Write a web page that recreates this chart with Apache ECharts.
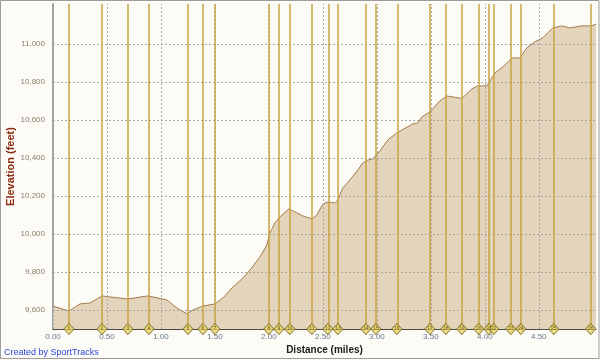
<!DOCTYPE html>
<html>
<head>
<meta charset="utf-8">
<script src="https://cdn.jsdelivr.net/npm/echarts@6/dist/echarts.min.js"></script>
<style>
html,body{margin:0;padding:0;background:#fcfbf6;}
#chart{width:600px;height:360px;}
</style>
</head>
<body>
<div id="chart"></div>
<script>
// Elevation profile (distance in miles, elevation in feet)
const distance = [0.00,0.148,0.25,0.343,0.454,0.509,0.694,0.806,0.88,0.972,1.056,1.148,1.241,1.296,1.389,1.5,1.574,1.657,1.759,1.824,1.917,1.981,2.009,2.056,2.102,2.185,2.259,2.315,2.398,2.444,2.5,2.546,2.611,2.639,2.685,2.75,2.815,2.87,2.917,2.963,3.028,3.102,3.185,3.333,3.38,3.417,3.491,3.583,3.648,3.704,3.787,3.88,3.935,4.019,4.093,4.167,4.25,4.324,4.389,4.463,4.537,4.63,4.713,4.787,4.898,4.991,5.03];
const elevation = [9620,9595,9632,9637,9674,9670,9658,9668,9674,9663,9653,9610,9579,9600,9621,9632,9663,9716,9768,9810,9879,9942,10005,10058,10090,10132,10111,10095,10079,10100,10158,10168,10163,10179,10242,10284,10330,10374,10389,10395,10437,10495,10532,10579,10584,10616,10642,10700,10726,10721,10713,10763,10779,10779,10847,10879,10926,10926,10979,11011,11032,11084,11095,11084,11095,11095,11105];
// Lap markers
const lapDistance = [0.148,0.454,0.694,0.889,1.25,1.389,1.5,1.999,2.093,2.194,2.398,2.546,2.639,2.898,2.991,3.185,3.491,3.639,3.787,3.944,4.037,4.083,4.241,4.333,4.639,4.981];
const lapLabels = ['1','2','3','4','5','6','7','8','9','10','11','12','13','14','15','16','17','18','19','20','21','22','23','24','25','26'];
// Axis ticks
const xTicks = [0,0.5,1,1.5,2,2.5,3,3.5,4,4.5];
const yTicks = [9600,9800,10000,10200,10400,10600,10800,11000];

const Y_MIN = 9500, Y_MAX = 11210, X_MIN = 0, X_MAX = 5.03;

function fmtThousands(v){ return String(v).replace(/\B(?=(\d{3})+(?!\d))/g, ','); }

const chart = echarts.init(document.getElementById('chart'), null, {renderer:'canvas'});
const font = 'Liberation Sans';

chart.setOption({
  backgroundColor:'#fcfbf6',
  animation:false,
  grid:{left:53, right:4, top:4, bottom:31, containLabel:false, outerBoundsMode:'none'},
  xAxis:{
    type:'value', min:X_MIN, max:X_MAX, interval:0.5,
    name:'Distance (miles)', nameLocation:'middle', nameGap:16, nameMoveOverlap:false,
    nameTextStyle:{fontFamily:font, fontSize:10, fontWeight:'bold', color:'#202020'},
    axisLine:{show:true, onZero:false, lineStyle:{color:'#4a4a4a', width:1}},
    axisTick:{show:false},
    splitLine:{show:false},
    axisLabel:{fontFamily:font, fontSize:8, color:'#6b7890', margin:4,
      formatter:function(v){ return v > 4.6 ? '' : v.toFixed(2); }}
  },
  yAxis:{
    type:'value', min:Y_MIN, max:Y_MAX, interval:100, offset:3,
    name:'Elevation (feet)', nameLocation:'middle', nameGap:34, nameMoveOverlap:false,
    nameTextStyle:{fontFamily:font, fontSize:11, fontWeight:'bold', color:'#8b2a10'},
    axisLine:{show:true, lineStyle:{color:'#a0a0a0', width:2}},
    axisTick:{show:false},
    splitLine:{show:false},
    axisLabel:{fontFamily:font, fontSize:8, color:'#8c7e6c', margin:5,
      formatter:function(v){ return yTicks.indexOf(v) >= 0 ? fmtThousands(v) : ''; }}
  },
  series:[
    {
      type:'line', name:'Elevation', z:2,
      data: distance.map((d,i)=>[d, elevation[i]]),
      showSymbol:false, smooth:false,
      lineStyle:{color:'#a47b4c', width:1},
      areaStyle:{color:'#e3d4bb', opacity:1},
      silent:true
    },
    {
      type:'line', name:'grid', z:3, data:[], silent:true,
      markLine:{
        silent:true, symbol:['none','none'], label:{show:false},
        lineStyle:{color:'#a8a8a8', width:1, type:[2,2]},
        data: xTicks.map(v=>({xAxis:v})).concat(yTicks.map(v=>({yAxis:v})))
      }
    },
    {
      type:'scatter', name:'Laps', z:5, clip:false, silent:true,
      data: lapDistance.map((d,i)=>({value:[d, Y_MIN], name:lapLabels[i]})),
      symbol:'diamond', symbolSize:[10,11],
      itemStyle:{color:'#ead66c', borderColor:'#7d6a22', borderWidth:1},
      label:{show:true, position:'inside', formatter:'{b}', fontSize:5, color:'#4a3a10', fontFamily:font},
      markLine:{
        silent:true, symbol:['none','none'], label:{show:false},
        lineStyle:{color:'#c8a542', width:1.5, type:'solid'},
        data: lapDistance.map(v=>({xAxis:v}))
      }
    }
  ],
  graphic:[
    {type:'text', left:4, top:348, style:{text:'Created by SportTracks', fill:'#2a46d8', font:'9px "Liberation Sans"'}},
    {type:'rect', shape:{x:0.5, y:0.5, width:598.5, height:358}, style:{fill:'none', stroke:'#9c9c9c', lineWidth:1}, z:100}
  ]
});
</script>
</body>
</html>
